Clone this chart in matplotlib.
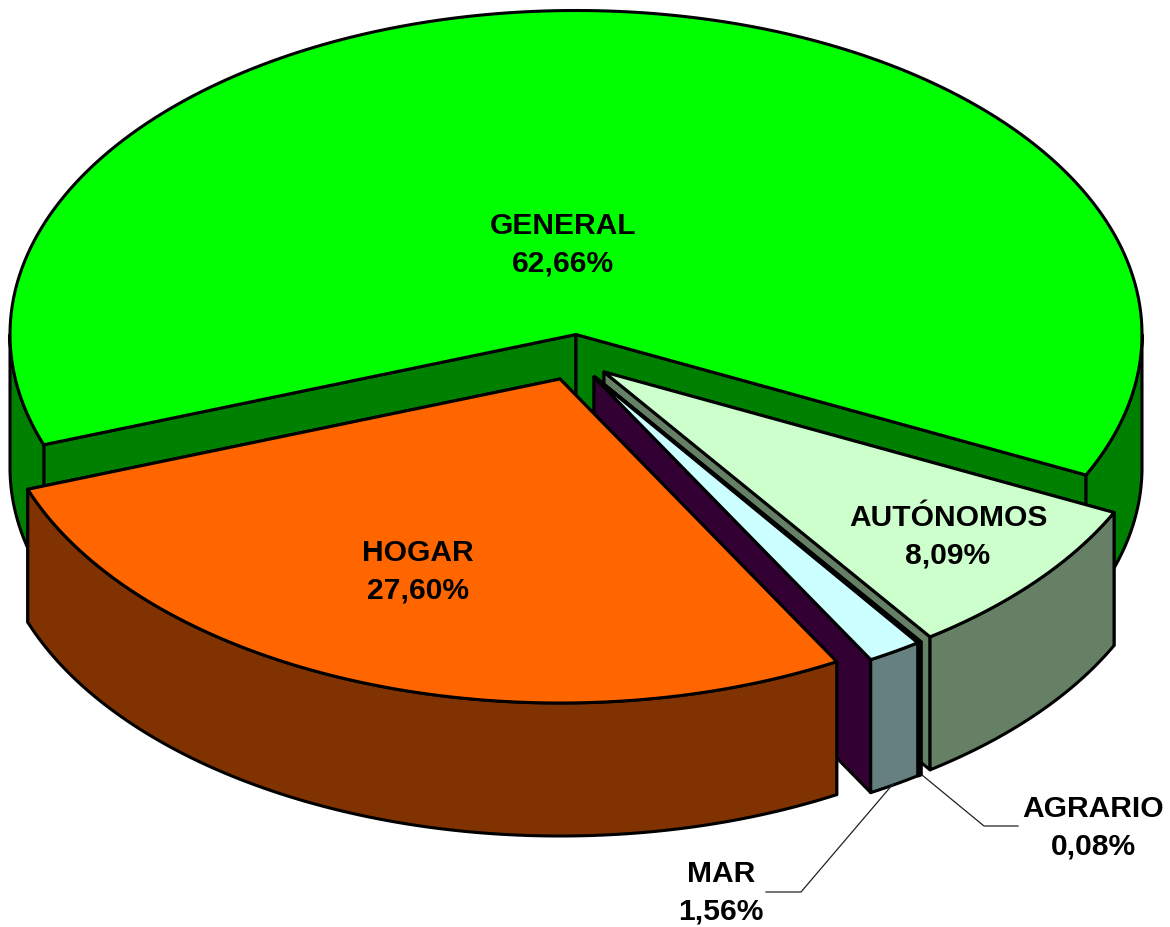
import numpy as np
import matplotlib
matplotlib.use("Agg")
import matplotlib.pyplot as plt
from matplotlib.patches import Polygon

labels = ["GENERAL", "HOGAR", "MAR", "AGRARIO", "AUTÓNOMOS"]
values = [62.66, 27.60, 1.56, 0.08, 8.09]
value_text = ["62,66%", "27,60%", "1,56%", "0,08%", "8,09%"]

top_colors = ["#00FF00", "#FF6600", "#CCFFFF", "#CCFFCC", "#CCFFCC"]
side_colors = ["#008000", "#803300", "#668080", "#668066", "#668066"]
cut_colors = ["#008000", "#803300", "#330033", "#668066", "#668066"]

# pixel geometry of the pie
centers = [(576, 334.5), (560, 379), (594, 377), (595, 377), (604, 372)]
label_pos = [(563, 245), (418, 572), (721, 893), (1093, 828), (948, 537)]
leaders = {2: [(893, 784), (801, 892), (766, 892)], 3: [(922, 775), (984, 826), (1018, 826)]}
rx, ry = 566, 324
depth = 133
start_angle = 334.3
draw_order = [0, 4, 3, 2, 1]
line_w = 2.2


def arc(cx, cy, a0, a1, n=200):
    t = np.radians(np.linspace(a0, a1, n))
    return np.column_stack([cx + rx * np.cos(t), cy - ry * np.sin(t)])


def add_poly(pts, color):
    ax.add_patch(Polygon(pts, closed=True, facecolor=color, edgecolor="black",
                         linewidth=line_w, joinstyle="round"))


fig = plt.figure(figsize=(11.7, 9.27), dpi=100)
ax = fig.add_axes([0, 0, 1, 1])
ax.set_xlim(0, 1170)
ax.set_ylim(927, 0)
ax.axis("off")

# angles go counter clockwise from start_angle
spans = np.array(values) / sum(values) * 360
starts = start_angle + np.concatenate([[0], np.cumsum(spans)[:-1]])

for i in draw_order:
    a0, a1 = starts[i], starts[i] + spans[i]
    cx, cy = centers[i]
    down = np.array([0, depth])
    apex = np.array([cx, cy])
    # cut faces, the far one first so its lower edge stays hidden
    for a in (a1, a0):
        end = arc(cx, cy, a, a, 1)[0]
        add_poly([apex, end, end + down, apex + down], cut_colors[i])
    # outer wall, only the front half (180..360 degrees)
    for k in (0, 1):
        lo = max(a0, 180 + 360 * k)
        hi = min(a1, 360 + 360 * k)
        if hi > lo:
            edge = arc(cx, cy, lo, hi)
            add_poly(np.vstack([edge, edge[::-1] + down]), side_colors[i])
    # top
    add_poly(np.vstack([apex, arc(cx, cy, a0, a1, 400)]), top_colors[i])

for i, pts in leaders.items():
    xs, ys = zip(*pts)
    ax.plot(xs, ys, color="#222222", linewidth=0.9)

for name, val, (x, y) in zip(labels, value_text, label_pos):
    ax.text(x, y, name + "\n" + val, ha="center", va="center", ma="center",
            family="Liberation Sans", weight="bold", fontsize=21.6, linespacing=1.44,
            color="black")

fig.savefig("out.png", dpi=100, facecolor="white")
